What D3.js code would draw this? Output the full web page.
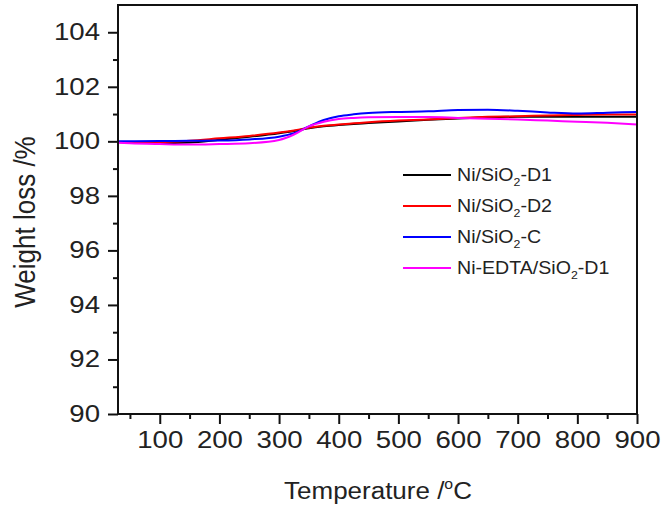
<!DOCTYPE html>
<html><head><meta charset="utf-8">
<script src="https://cdn.jsdelivr.net/npm/d3@7"></script>
<style>
body{margin:0;background:#fff;}
svg text{font-family:"Liberation Sans",Arial,sans-serif;fill:#222;}
</style></head>
<body><svg id="c" width="662" height="513"></svg>
<script>
const temps = [30,50,100,150,200,250,300,325,350,375,400,425,450,500,550,600,650,700,750,800,850,900];
const d1   = [99.98,99.96,99.94,99.96,100.06,100.17,100.30,100.38,100.48,100.55,100.60,100.64,100.67,100.73,100.79,100.84,100.88,100.90,100.90,100.90,100.90,100.90];
const d2   = [99.98,99.97,99.97,100.02,100.11,100.20,100.32,100.40,100.50,100.57,100.62,100.66,100.70,100.76,100.80,100.86,100.90,100.92,100.95,100.97,100.98,100.98];
const cS   = [100.00,100.00,100.01,100.02,100.03,100.07,100.17,100.30,100.55,100.78,100.92,100.99,101.04,101.08,101.10,101.15,101.16,101.12,101.06,101.02,101.05,101.08];
const edta = [99.95,99.93,99.90,99.88,99.90,99.93,100.05,100.25,100.55,100.72,100.82,100.86,100.88,100.89,100.89,100.86,100.83,100.80,100.76,100.72,100.68,100.62];
const seriesNames = ["Ni/SiO|2|-D1","Ni/SiO|2|-D2","Ni/SiO|2|-C","Ni-EDTA/SiO|2|-D1"];
const seriesColors = ["#000000","#ff0000","#0000ff","#ff00ff"];
const xTicks = [100,200,300,400,500,600,700,800,900];
const xMinor = [50,150,250,350,450,550,650,750,850];
const yTicks = [90,92,94,96,98,100,102,104];
const yMinor = [91,93,95,97,99,101,103];

const svg = d3.select("#c");
const L=118, R=637, T=5, B=414;
const SX = 1.13, TX = 1.2;
const x = d3.scaleLinear().domain([30,900]).range([L,R]);
const y = d3.scaleLinear().domain([90,105]).range([B,T]);

// curves
const series=[d1,d2,cS,edta];
const line = d3.line().x((d,i)=>x(temps[i])).y(d=>y(d)).curve(d3.curveMonotoneX);
series.forEach((s,k)=>{
  svg.append("path").datum(s).attr("d",line).attr("fill","none")
    .attr("stroke",seriesColors[k]).attr("stroke-width",2);
});

// frame
svg.append("rect").attr("x",L).attr("y",T).attr("width",R-L).attr("height",B-T)
  .attr("fill","none").attr("stroke","#111").attr("stroke-width",2);

// axes
const gx = svg.append("g").attr("transform",`translate(0,${B})`)
  .call(d3.axisBottom(x).tickValues(xTicks).tickSize(10).tickSizeOuter(0).tickPadding(8));
const gxm = svg.append("g").attr("transform",`translate(0,${B})`)
  .call(d3.axisBottom(x).tickValues(xMinor).tickSize(5).tickSizeOuter(0).tickFormat(""));
const gy = svg.append("g").attr("transform",`translate(${L},0)`)
  .call(d3.axisLeft(y).tickValues(yTicks).tickSize(10).tickSizeOuter(0).tickPadding(9));
const gym = svg.append("g").attr("transform",`translate(${L},0)`)
  .call(d3.axisLeft(y).tickValues(yMinor).tickSize(5).tickSizeOuter(0).tickFormat(""));
[gx,gxm,gy,gym].forEach(g=>{
  g.select(".domain").remove();
  g.selectAll(".tick line").attr("stroke","#111").attr("stroke-width",2);
});
gx.selectAll(".tick text").attr("font-size",23).attr("fill","#222")
  .attr("font-family","Liberation Sans, Arial, sans-serif")
  .attr("transform",`scale(${TX},1)`);
gy.selectAll(".tick text").attr("font-size",23).attr("fill","#222")
  .attr("font-family","Liberation Sans, Arial, sans-serif")
  .attr("x",0).attr("transform",`translate(-18,0) scale(${TX},1)`);

// axis titles
const xt = svg.append("text").attr("transform",`translate(378,499) scale(${SX},1)`)
  .attr("text-anchor","middle").attr("font-size",23);
xt.append("tspan").text("Temperature /");
xt.append("tspan").attr("font-size",14).attr("dy",-10).text("o");
xt.append("tspan").attr("dy",10).text("C");

svg.append("text").attr("transform",`translate(35,222) scale(${SX},1) rotate(-90)`)
  .attr("text-anchor","middle").attr("font-size",26).text("Weight loss /%");

// legend
const lg = svg.append("g");
seriesNames.forEach((n,k)=>{
  const yy = 175 + k*31;
  lg.append("line").attr("x1",403).attr("x2",451).attr("y1",yy).attr("y2",yy)
    .attr("stroke",seriesColors[k]).attr("stroke-width",2);
  const parts = n.split("|");
  const t = lg.append("text").attr("transform",`translate(457,${yy+6}) scale(1.12,1)`)
    .attr("font-size",17.5);
  t.append("tspan").text(parts[0]);
  t.append("tspan").attr("font-size",11).attr("dy",5).text(parts[1]);
  t.append("tspan").attr("dy",-5).text(parts[2]);
});
</script></body></html>
